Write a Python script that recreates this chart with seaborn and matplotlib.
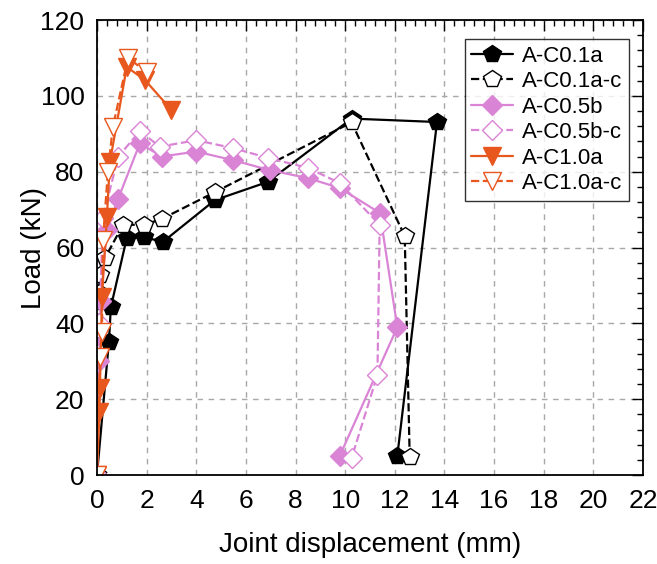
import matplotlib
matplotlib.use("Agg")
import matplotlib.pyplot as plt
from matplotlib.ticker import AutoMinorLocator
import seaborn as sns
import pandas as pd

# Load-displacement curves of the joint tests (mm, kN)
c01a_x = [0, 0.48, 0.56, 1.2, 1.9, 2.66, 4.75, 6.88, 10.26, 13.7, 12.1]
c01a_y = [0, 35.1, 44.3, 62.5, 62.7, 61.5, 72.5, 77.3, 94.0, 93.1, 5.0]

c01ac_x = [0, 0.08, 0.12, 0.32, 1.05, 1.9, 2.6, 4.75, 10.26, 12.4, 12.6]
c01ac_y = [0, 48.0, 52.7, 57.2, 66.0, 66.0, 67.5, 74.6, 93.0, 63.0, 4.7]

c05b_x = [0, 0.1, 0.15, 0.4, 0.85, 1.73, 2.6, 4.0, 5.5, 6.96, 8.5, 9.78, 11.4, 12.1, 9.78]
c05b_y = [0, 30.0, 46.0, 64.6, 72.8, 87.5, 84.0, 85.3, 83.0, 80.4, 78.3, 75.7, 69.1, 39.0, 5.0]

c05bc_x = [0, 0.1, 0.24, 0.85, 1.73, 2.53, 4.0, 5.5, 6.9, 8.5, 9.78, 11.39, 11.3, 10.26]
c05bc_y = [0, 40.0, 67.8, 83.9, 90.7, 86.6, 88.3, 86.2, 83.6, 81.0, 77.0, 66.0, 26.4, 4.5]

c10a_x = [0, 0.1, 0.12, 0.2, 0.4, 0.52, 1.2, 1.93, 3.0]
c10a_y = [0, 16.6, 23.0, 47.0, 68.0, 82.5, 107.6, 104.2, 96.3]

c10ac_x = [0, 0.12, 0.2, 0.24, 0.44, 0.64, 1.25, 2.0]
c10ac_y = [0, 31.1, 37.7, 62.0, 80.0, 91.8, 110.0, 106.3]

labels = ["A-C0.1a", "A-C0.1a-c", "A-C0.5b", "A-C0.5b-c", "A-C1.0a", "A-C1.0a-c"]

x_ticks = list(range(0, 23, 2))
y_ticks = list(range(0, 121, 20))

sns.set_theme(style="white")
plt.rcParams["font.family"] = ["Liberation Sans", "DejaVu Sans"]
plt.rcParams["text.color"] = "black"
plt.rcParams["axes.labelcolor"] = "black"

fig = plt.figure(figsize=(6.57, 5.64), dpi=100)
ax = fig.add_axes([0.1476, 0.1578, 0.8311, 0.8067])

BLACK = "black"
PINK = "#DA84D6"
ORANGE = "#E8581E"

series = [
    (c01a_x, c01a_y, BLACK, "-", "p", True, 13),
    (c01ac_x, c01ac_y, BLACK, "--", "p", False, 13),
    (c05b_x, c05b_y, PINK, "-", "D", True, 10.5),
    (c05bc_x, c05bc_y, PINK, "--", "D", False, 10.5),
    (c10a_x, c10a_y, ORANGE, "-", "v", True, 13),
    (c10ac_x, c10ac_y, ORANGE, "--", "v", False, 13),
]

for (xs, ys, col, ls, mk, filled, ms), lab in zip(series, labels):
    df = pd.DataFrame({"disp": xs, "load": ys})
    kw = dict(marker=mk, markersize=ms, markeredgecolor=col,
              markerfacecolor=col if filled else "white",
              markeredgewidth=1.0, linewidth=1.6, color=col, linestyle=ls)
    if ls == "--":
        kw["dashes"] = (5, 3)
    sns.lineplot(data=df, x="disp", y="load", sort=False, estimator=None,
                 ax=ax, label=lab, **kw)

ax.set_xlim(0, 22)
ax.set_ylim(0, 120)
ax.set_xticks(x_ticks)
ax.set_yticks(y_ticks)
ax.xaxis.set_minor_locator(AutoMinorLocator(5))
ax.yaxis.set_minor_locator(AutoMinorLocator(5))
ax.tick_params(which="both", direction="in", top=True, right=True,
               colors="black", labelcolor="black", labelsize=19, width=1.0)
ax.tick_params(which="major", length=8)
ax.tick_params(axis="x", which="major", pad=10)
ax.tick_params(axis="y", which="major", pad=9)
ax.tick_params(which="minor", length=4)
ax.grid(True, which="major", color="#a8a8a8", linestyle=(0, (4, 4)), linewidth=1.0)
ax.set_axisbelow(True)
for sp in ax.spines.values():
    sp.set_color("black")
    sp.set_linewidth(1.3)

ax.set_xlabel("Joint displacement (mm)", fontsize=20)
ax.set_ylabel("Load (kN)", fontsize=20)
ax.xaxis.set_label_coords(0.5, -0.126)
ax.yaxis.set_label_coords(-0.092, 0.5)

leg = ax.legend(loc="upper right", bbox_to_anchor=(0.975, 0.958), fontsize=16,
                frameon=True, fancybox=False, edgecolor="black",
                handlelength=1.9, handletextpad=0.4, borderpad=0.3,
                labelspacing=0.2, borderaxespad=0.0)
leg.get_frame().set_linewidth(1.0)

fig.savefig("out.png", dpi=100)
